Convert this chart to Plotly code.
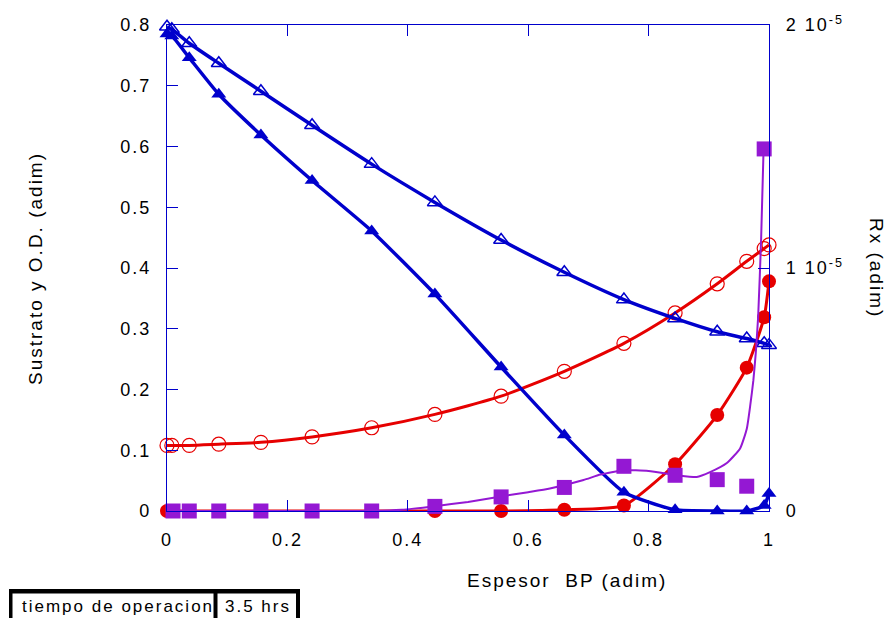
import plotly.graph_objects as go

# Nodos de colocacion a lo largo del espesor de la biopelicula
espesor = [0, 0.008, 0.037, 0.086, 0.156, 0.241, 0.340, 0.445, 0.555,
           0.660, 0.759, 0.844, 0.914, 0.963, 0.992, 1.0]

# Perfiles de sustrato (triangulos) y oxigeno disuelto (circulos)
sustrato_abierto = [0.797, 0.793, 0.770, 0.737, 0.691, 0.635, 0.571, 0.508, 0.446,
                    0.393, 0.348, 0.317, 0.295, 0.284, 0.276, 0.273]
sustrato_lleno = [0.785, 0.782, 0.746, 0.686, 0.619, 0.544, 0.461, 0.357, 0.237,
                  0.125, 0.031, 0.002, 0.0, 0.0, 0.009, 0.029]
od_abierto = [0.108, 0.108, 0.108, 0.110, 0.113, 0.122, 0.137, 0.159, 0.189,
              0.230, 0.276, 0.326, 0.374, 0.411, 0.432, 0.438]
od_lleno = [0, 0, 0, 0, 0, 0, 0, 0, 0,
            0.002, 0.009, 0.077, 0.158, 0.236, 0.319, 0.378]

# Velocidad de crecimiento Rx (eje derecho)
espesor_rx = [0.010, 0.037, 0.086, 0.156, 0.241, 0.340, 0.445, 0.555,
              0.660, 0.759, 0.844, 0.914, 0.963, 0.992]
rx_puntos = [0, 0, 0, 0, 0, 0, 1.9e-7, 5.8e-7,
             9.7e-7, 1.84e-6, 1.47e-6, 1.29e-6, 1.02e-6, 1.49e-5]

espesor_curva = [0, 0.30, 0.34, 0.39, 0.445, 0.50, 0.555, 0.60, 0.636, 0.692, 0.72,
                 0.758, 0.80, 0.847, 0.88, 0.902, 0.93, 0.952, 0.963, 0.969, 0.974,
                 0.978, 0.982, 0.987, 0.991]
rx_curva = [0, 0, 0, 5e-8, 2e-7, 3.75e-7, 6e-7, 7.75e-7, 9.25e-7, 1.275e-6, 1.5e-6,
            1.675e-6, 1.65e-6, 1.475e-6, 1.4e-6, 1.6e-6, 1.975e-6, 2.575e-6,
            3.375e-6, 4.375e-6, 5.375e-6, 6.5e-6, 8e-6, 1.125e-5, 1.49e-5]

x_ticks = [0, 0.2, 0.4, 0.6, 0.8, 1]
y_ticks = [0, 0.1, 0.2, 0.3, 0.4, 0.5, 0.6, 0.7, 0.8]
rx_ticks = [0, 1e-5, 2e-5]
rx_ticktext = ["0", "1 10<sup>-5</sup>", "2 10<sup>-5</sup>"]

AZUL = "#0000cc"
ROJO = "#e60000"
MORADO = "#9418d3"
FUENTE = "Liberation Sans, Arial, sans-serif"

fig = go.Figure()

fig.add_trace(go.Scatter(
    x=espesor, y=od_abierto, mode="lines+markers", cliponaxis=False,
    line=dict(color=ROJO, width=3, shape="spline", smoothing=0.6),
    marker=dict(symbol="circle-open", size=14, color=ROJO, line=dict(width=1.2, color=ROJO)),
    showlegend=False))
fig.add_trace(go.Scatter(
    x=espesor, y=od_lleno, mode="lines+markers", cliponaxis=False,
    line=dict(color=ROJO, width=3, shape="spline", smoothing=0.5),
    marker=dict(symbol="circle", size=14, color=ROJO),
    showlegend=False))
fig.add_trace(go.Scatter(
    x=espesor, y=sustrato_abierto, mode="lines+markers", cliponaxis=False,
    line=dict(color=AZUL, width=3.5, shape="spline", smoothing=0.6),
    marker=dict(symbol="triangle-up-open", size=13, color=AZUL, line=dict(width=1.5, color=AZUL)),
    showlegend=False))
fig.add_trace(go.Scatter(
    x=espesor, y=sustrato_lleno, mode="lines+markers", cliponaxis=False,
    line=dict(color=AZUL, width=3.5, shape="spline", smoothing=0.5),
    marker=dict(symbol="triangle-up", size=13, color=AZUL),
    showlegend=False))

fig.add_trace(go.Scatter(
    x=espesor_curva, y=rx_curva, mode="lines", yaxis="y2", cliponaxis=False,
    line=dict(color=MORADO, width=2, shape="spline", smoothing=0.5),
    showlegend=False))
fig.add_trace(go.Scatter(
    x=espesor_rx, y=rx_puntos, mode="markers", yaxis="y2", cliponaxis=False,
    marker=dict(symbol="square", size=15, color=MORADO),
    showlegend=False))

eje = dict(showgrid=False, zeroline=False, showline=True, linecolor=AZUL, linewidth=1.2,
           ticks="inside", ticklen=11, tickwidth=1.2, tickcolor=AZUL,
           tickfont=dict(family=FUENTE, size=18, color="black"))

fig.update_layout(
    width=890, height=618,
    margin=dict(l=167, r=121, t=25, b=107),
    paper_bgcolor="white", plot_bgcolor="white",
    font=dict(family=FUENTE, color="black"),
    xaxis=dict(range=[0, 1], tickvals=x_ticks, mirror="ticks", ticklabelstandoff=12, **eje),
    yaxis=dict(range=[0, 0.8], tickvals=y_ticks, mirror=False, ticklabelstandoff=11, **eje),
    yaxis2=dict(range=[0, 2e-5], tickvals=rx_ticks, ticktext=rx_ticktext, overlaying="y",
                side="right", ticklabelstandoff=12, **eje),
)

# Titulos de ejes
fig.add_annotation(text="Espesor\u00a0\u00a0BP (adim)", xref="paper", yref="paper",
                   x=0.664, y=-0.142, showarrow=False, xanchor="center", yanchor="middle",
                   font=dict(family=FUENTE, size=19, color="black"))
fig.add_annotation(text="Sustrato y O.D. (adim)", xref="paper", yref="paper",
                   x=-0.2193, y=0.5, showarrow=False, textangle=-90,
                   xanchor="center", yanchor="middle",
                   font=dict(family=FUENTE, size=19, color="black"))
fig.add_annotation(text="Rx (adim)", xref="paper", yref="paper",
                   x=1.1794, y=0.5, showarrow=False, textangle=90,
                   xanchor="center", yanchor="middle",
                   font=dict(family=FUENTE, size=19, color="black"))

# Recuadro con el tiempo de operacion
W, H = 602.0, 486.0
def px(xp):
    return (xp - 167) / W
def py(yp):
    return (511 - yp) / H

negro = dict(color="black", width=0)
fig.add_shape(type="rect", xref="paper", yref="paper", x0=px(9), x1=px(300),
              y0=py(593.5), y1=py(589), fillcolor="black", line=negro)
for xl, xr in [(9, 12.5), (213.5, 217.5), (296, 300)]:
    fig.add_shape(type="rect", xref="paper", yref="paper", x0=px(xl), x1=px(xr),
                  y0=py(625), y1=py(589), fillcolor="black", line=negro)
fig.add_annotation(text="tiempo de operacion", xref="paper", yref="paper",
                   x=px(117.5), y=py(606), showarrow=False, xanchor="center", yanchor="middle",
                   font=dict(family=FUENTE, size=17, color="black"))
fig.add_annotation(text="3.5 hrs", xref="paper", yref="paper",
                   x=px(257.5), y=py(606), showarrow=False, xanchor="center", yanchor="middle",
                   font=dict(family=FUENTE, size=17, color="black"))

# Espaciado entre letras de todos los textos del grafico
espaciado = """
var gd = document.getElementById('{plot_id}');
function espaciar() {
    gd.querySelectorAll('svg text').forEach(function (t) { t.style.letterSpacing = '2px'; });
}
espaciar();
gd.on('plotly_afterplot', espaciar);
"""

fig.write_html("out.html", post_script=espaciado)
